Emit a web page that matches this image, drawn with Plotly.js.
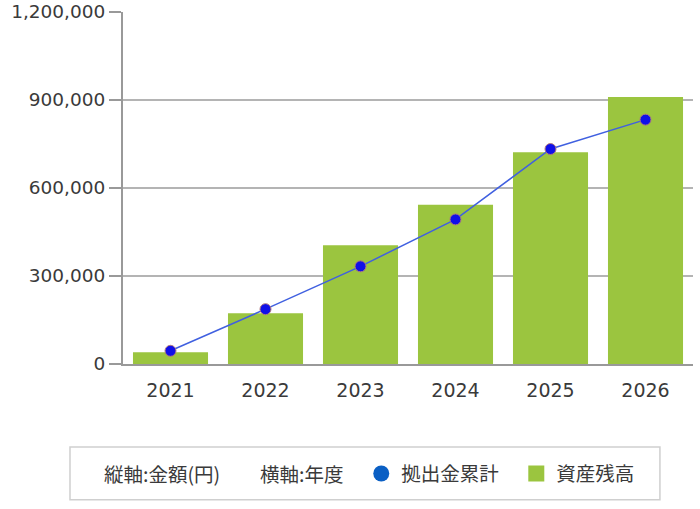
<!DOCTYPE html>
<html><head><meta charset="utf-8">
<script src="https://cdn.plot.ly/plotly-3.0.1.min.js"></script>
<style>html,body{margin:0;padding:0;background:#fff}#c{width:700px;height:509px}</style>
</head><body><div id="c"></div>
<script>
const years = ['2021','2022','2023','2024','2025','2026'];
const assetBalance = [40000, 173000, 405000, 543000, 722000, 910000];
const contribCumulative = [45000, 187000, 333000, 493000, 733000, 833000];
const yTickVals = [0, 300000, 600000, 900000, 1200000];
const yTickText = ['0', '300,000', '600,000', '900,000', '1,200,000'];
const noteVertical = '縦軸:金額(円)';
const noteHorizontal = '横軸:年度';
const nameLine = '拠出金累計';
const nameBar = '資産残高';

const cjk = '"Noto Sans CJK JP", "Noto Sans", sans-serif';
const latin = '"DejaVu Sans", Verdana, sans-serif';
const green = '#9bc53f';
const txt = '#3a3a3a';
const traces = [
  {type:'bar', x:years, y:assetBalance, name:nameBar, marker:{color:green}, showlegend:false, hoverinfo:'y'},
  {type:'scatter', mode:'lines+markers', x:years, y:contribCumulative, name:nameLine,
   line:{color:'#4060e0', width:1.5}, marker:{color:'#1010e8', size:11, line:{color:'#b07a80', width:1}}, showlegend:false},
  {type:'scatter', mode:'markers', x:[null], y:[null], name:nameLine, marker:{color:'#0a5fc4', size:16}, showlegend:true, legend:'legend'},
  {type:'scatter', mode:'markers', x:[null], y:[null], name:nameBar, marker:{color:green, symbol:'square', size:18}, showlegend:true, legend:'legend2'}
];
const legY = -0.312;
const legBase = {orientation:'h', xanchor:'left', y:legY, yanchor:'middle',
    font:{family:cjk, size:19.5, color:txt}, bgcolor:'rgba(0,0,0,0)', borderwidth:0};
const layout = {
  width:700, height:509,
  margin:{l:123, r:7, t:12, b:145},
  paper_bgcolor:'#fff', plot_bgcolor:'#fff',
  bargap:0.21,
  showlegend:true,
  legend:Object.assign({}, legBase, {x:0.418}),
  legend2:Object.assign({}, legBase, {x:0.690}),
  xaxis:{type:'category', showline:true, linecolor:'#999', linewidth:2, ticks:'', showgrid:false, ticklabelstandoff:8,
    tickfont:{family:latin, size:19, color:txt}, fixedrange:true},
  yaxis:{range:[0,1200000], tickvals:yTickVals, ticktext:yTickText, showgrid:true, gridcolor:'#b4b4b4', gridwidth:2,
    showline:true, linecolor:'#999', linewidth:2, ticks:'outside', ticklen:12, tickcolor:'#999', tickwidth:2,
    tickfont:{family:latin, size:18.5, color:txt}, zeroline:false, fixedrange:true},
  shapes:[{type:'rect', xref:'paper', yref:'paper', x0:-0.093, x1:0.942, y0:-0.236, y1:-0.386,
    line:{color:'#cfcfcf', width:1.5}, fillcolor:'rgba(0,0,0,0)'}],
  annotations:[
    {xref:'paper', yref:'paper', x:-0.0374, y:legY, xanchor:'left', yanchor:'middle', showarrow:false,
     text:noteVertical, font:{family:cjk, size:19.5, color:txt}},
    {xref:'paper', yref:'paper', x:0.2368, y:legY, xanchor:'left', yanchor:'middle', showarrow:false,
     text:noteHorizontal, font:{family:cjk, size:19.5, color:txt}}
  ]
};
Plotly.newPlot('c', traces, layout, {displayModeBar:false, staticPlot:true});
</script></body></html>
